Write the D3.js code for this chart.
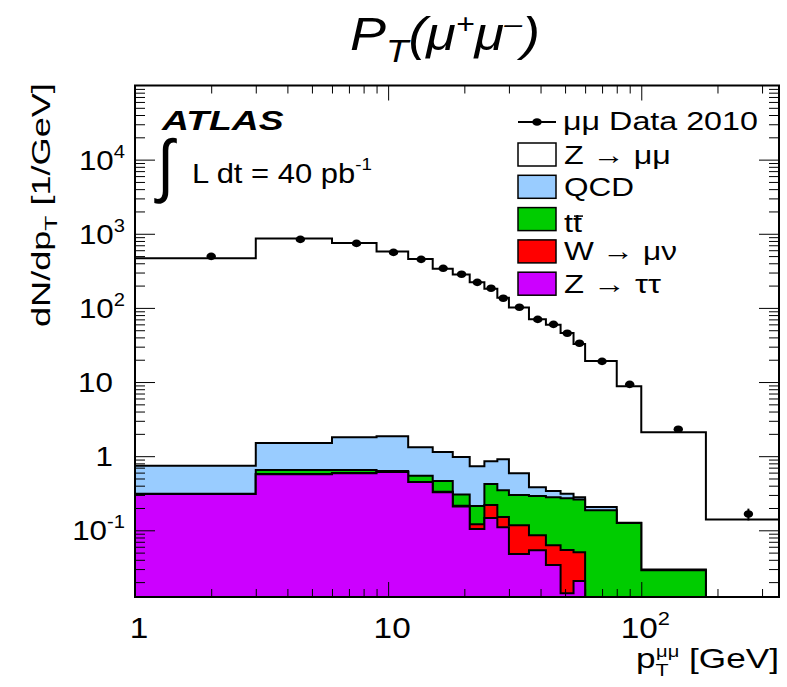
<!DOCTYPE html>
<html>
<head>
<meta charset="utf-8">
<script src="https://cdn.jsdelivr.net/npm/d3@7"></script>
<style>
  body { margin: 0; background: #fff; }
  text { font-family: "Liberation Sans", Arial, Helvetica, sans-serif; fill: #000; }
</style>
</head>
<body>
<div id="chart"></div>
<script>
// bin edges of pT(mumu), GeV
var edges = [1, 3, 6, 9, 12, 15, 18, 21, 24, 27, 30, 36, 42, 48, 54, 60, 80, 100, 180, 350];

// data, dN/dpT per bin
var dataVals = [496, 840, 742, 561, 452, 342, 284, 221, 184, 135, 102, 70, 60, 45.5, 33.3, 19, 9.3, 2.31, 0.166];
var dataErr  = [16, 21, 22, 19, 17, 15, 14, 12, 11, 9, 5, 4.5, 4.2, 3.6, 3.1, 1.3, 0.9, 0.21, 0.03];

// MC components (stacked bottom to top: Ztautau, W, ttbar, QCD, Zmumu)
var ztautau = [0.308, 0.572, 0.59, 0.61, 0.447, 0.327, 0.21, 0.104, 0.146, 0.110, 0.048, 0.054, 0.034, 0.0142, 0.0207, 0, 0, 0, 0];
var wmunu   = [0.001, 0.002, 0.002, 0.003, 0.003, 0.004, 0.004, 0.017, 0.073, 0.041, 0.069, 0.032, 0.029, 0.040, 0.030, 0, 0, 0, 0];
var ttbar   = [0.002, 0.078, 0.058, 0.017, 0.093, 0.133, 0.09, 0.091, 0.201, 0.197, 0.183, 0.204, 0.217, 0.216, 0.209, 0.187, 0.125, 0.029, 0];
var qcd     = [0.43, 0.85, 1.15, 1.23, 0.78, 0.67, 0.67, 0.518, 0.437, 0.562, 0.29, 0.09, 0.06, 0.04, 0.02, 0.019, 0.001, 0.0005, 0];
var zmumu   = [467.3, 864.5, 746.2, 576.1, 454.7, 336.9, 281.0, 221.3, 181.1, 136.1, 100.4, 70.1, 58.7, 45.7, 32.2, 19.0, 8.67, 2.07, 0.14];

// ticks
var xMajor = [1, 10, 100];
var xMinor = [2, 3, 4, 5, 6, 7, 8, 9, 20, 30, 40, 50, 60, 70, 80, 90, 200, 300];
var xTickText = ['1', '10', '10'];
var xTickExp  = ['', '', '2'];
var yMajor = [0.1, 1, 10, 100, 1000, 10000];
var yTickText = ['10', '1', '10', '10', '10', '10'];
var yTickExp  = ['-1', '', '', '2', '3', '4'];

var legendNames = ['Z \u2192 \u03bc\u03bc', 'QCD', 'tt', 'W \u2192 \u03bc\u03bd', 'Z \u2192 \u03c4\u03c4'];
var legendWidths = [107, 70, 19, 113, 98];

////////////////////////////////////////////////

var W = 787, H = 687;
var plotL = 135, plotR = 779, plotT = 85.5, plotB = 597;
var ymin = 0.0126;

var x = d3.scaleLog().domain([1, 350]).range([plotL, plotR]);
var y = d3.scaleLog().domain([ymin, 1e5]).range([plotB, plotT]);

var svg = d3.select('#chart').append('svg')
    .attr('width', W)
    .attr('height', H);

svg.append('clipPath').attr('id', 'plotclip')
    .append('rect')
    .attr('x', plotL).attr('y', plotT)
    .attr('width', plotR - plotL).attr('height', plotB - plotT);

// stretch a text along its baseline so it covers w pixels
function fit(t, x0, yb, w){
    var s = w / t.node().getBBox().width;
    t.attr('transform', 'translate(' + x0 + ',' + yb + ') scale(' + s + ',1)');
}

////////////////////////////////////////////////
// stacked histograms

var layers = [
    {vals: ztautau, color: 'rgb(204,0,255)'},
    {vals: wmunu,   color: 'rgb(255,0,0)'},
    {vals: ttbar,   color: 'rgb(0,204,0)'},
    {vals: qcd,     color: 'rgb(153,204,255)'},
    {vals: zmumu,   color: '#fff'}
];

var cum = dataVals.map(function(){ return 0; });
var stacks = [];
layers.forEach(function(l){
    cum = cum.map(function(c, i){ return c + l.vals[i]; });
    stacks.push({color: l.color, top: cum.slice()});
});

function stepPath(vals){
    var p = 'M' + x(edges[0]) + ',' + plotB;
    vals.forEach(function(v, i){
        var yy = y(Math.max(v, ymin));
        p += 'L' + x(edges[i]) + ',' + yy + 'L' + x(edges[i + 1]) + ',' + yy;
    });
    p += 'L' + x(edges[edges.length - 1]) + ',' + plotB + 'Z';
    return p;
}

var hg = svg.append('g').attr('clip-path', 'url(#plotclip)');
hg.selectAll('path.stack')
    .data(stacks.slice().reverse())
    .enter()
    .append('path')
    .attr('class', 'stack')
    .attr('d', function(d){ return stepPath(d.top); })
    .attr('fill', function(d){ return d.color; })
    .attr('stroke', '#000')
    .attr('stroke-width', 2)
    .attr('stroke-linejoin', 'miter');

////////////////////////////////////////////////
// data points

var centers = dataVals.map(function(d, i){ return (edges[i] + edges[i + 1]) / 2; });

hg.selectAll('line.err')
    .data(dataVals)
    .enter()
    .append('line')
    .attr('class', 'err')
    .attr('x1', function(d, i){ return x(centers[i]); })
    .attr('x2', function(d, i){ return x(centers[i]); })
    .attr('y1', function(d, i){ return y(d - dataErr[i]); })
    .attr('y2', function(d, i){ return y(d + dataErr[i]); })
    .attr('stroke', '#000')
    .attr('stroke-width', 2);

hg.selectAll('ellipse.pt')
    .data(dataVals)
    .enter()
    .append('ellipse')
    .attr('class', 'pt')
    .attr('cx', function(d, i){ return x(centers[i]); })
    .attr('cy', function(d){ return y(d); })
    .attr('rx', 4.7)
    .attr('ry', 3.8)
    .attr('fill', '#000');

////////////////////////////////////////////////
// axes (ticks inside the frame)

var yMinor = [];
[0.01, 0.1, 1, 10, 100, 1000, 10000].forEach(function(dec){
    for (var k = 2; k <= 9; k++){
        if (k * dec >= ymin && k * dec < 1e5) yMinor.push(k * dec);
    }
});

function noDomain(g){ g.select('.domain').remove(); g.selectAll('.tick line').attr('stroke', '#000').attr('stroke-width', 1); }

svg.append('g').attr('transform', 'translate(0,' + plotB + ')')
    .call(d3.axisBottom(x).tickValues(xMajor).tickSize(-15).tickFormat('')).call(noDomain);
svg.append('g').attr('transform', 'translate(0,' + plotB + ')')
    .call(d3.axisBottom(x).tickValues(xMinor).tickSize(-8).tickFormat('')).call(noDomain);
svg.append('g').attr('transform', 'translate(0,' + plotT + ')')
    .call(d3.axisTop(x).tickValues(xMajor).tickSize(-15).tickFormat('')).call(noDomain);
svg.append('g').attr('transform', 'translate(0,' + plotT + ')')
    .call(d3.axisTop(x).tickValues(xMinor).tickSize(-8).tickFormat('')).call(noDomain);

svg.append('g').attr('transform', 'translate(' + plotL + ',0)')
    .call(d3.axisLeft(y).tickValues(yMajor).tickSize(-20).tickFormat('')).call(noDomain);
svg.append('g').attr('transform', 'translate(' + plotL + ',0)')
    .call(d3.axisLeft(y).tickValues(yMinor).tickSize(-10).tickFormat('')).call(noDomain);
svg.append('g').attr('transform', 'translate(' + plotR + ',0)')
    .call(d3.axisRight(y).tickValues(yMajor).tickSize(-20).tickFormat('')).call(noDomain);
svg.append('g').attr('transform', 'translate(' + plotR + ',0)')
    .call(d3.axisRight(y).tickValues(yMinor).tickSize(-10).tickFormat('')).call(noDomain);

svg.append('rect')
    .attr('x', plotL).attr('y', plotT)
    .attr('width', plotR - plotL).attr('height', plotB - plotT)
    .attr('fill', 'none')
    .attr('stroke', '#000')
    .attr('stroke-width', 2);

// tick labels
yMajor.forEach(function(v, i){
    var t = svg.append('text')
        .attr('text-anchor', 'end')
        .attr('font-size', 28)
        .attr('transform', 'translate(' + (yTickExp[i] ? 125 : 113) + ',' + (y(v) + 10) + ') scale(1.12,1)');
    t.append('tspan').text(yTickText[i]);
    if (yTickExp[i]) t.append('tspan').attr('font-size', 18).attr('dy', -12).text(yTickExp[i]);
});

xMajor.forEach(function(v, i){
    var t = svg.append('text')
        .attr('text-anchor', 'middle')
        .attr('font-size', 29)
        .attr('transform', 'translate(' + (x(v) + (xTickExp[i] ? 4 : 4)) + ',638) scale(1.15,1)');
    t.append('tspan').text(xTickText[i]);
    if (xTickExp[i]) t.append('tspan').attr('font-size', 19).attr('dy', -13).text(xTickExp[i]);
});

// axis titles
var xt = svg.append('text').attr('font-size', 28);
xt.append('tspan').text('p');
xt.append('tspan').attr('font-size', 17).attr('dy', 8).text('T');
xt.append('tspan').attr('font-size', 16).attr('dx', -10).attr('dy', -19).text('\u03bc\u03bc');
xt.append('tspan').attr('dy', 11).text(' [GeV]');
fit(xt, 636, 668, 143);

var yt = svg.append('text').attr('font-size', 25);
yt.append('tspan').text('dN/dp');
yt.append('tspan').attr('font-size', 17).attr('dy', 7).text('T');
yt.append('tspan').attr('dy', -7).text(' [1/GeV]');
var ys = 244 / yt.node().getBBox().width;
yt.attr('transform', 'translate(50,327) rotate(-90) scale(' + ys + ',1)');

// title
var tt = svg.append('text').attr('font-size', 47).attr('font-style', 'italic');
tt.append('tspan').text('P');
tt.append('tspan').attr('font-size', 32).attr('dy', 12).text('T');
tt.append('tspan').attr('dy', -12).text('(\u03bc');
tt.append('tspan').attr('font-size', 28).attr('dy', -17).text('+');
tt.append('tspan').attr('dy', 17).text('\u03bc');
tt.append('tspan').attr('font-size', 28).attr('dy', -17).text('\u2013');
tt.append('tspan').attr('dy', 17).text(')');
fit(tt, 350, 50, 190);

// ATLAS label
var at = svg.append('text').attr('font-size', 27).attr('font-weight', 'bold').attr('font-style', 'italic').text('ATLAS');
fit(at, 162, 130, 123);

svg.append('text')
    .attr('font-family', 'DejaVu Sans')
    .attr('font-size', 58)
    .attr('transform', 'translate(157,189) scale(1.05,1.2)')
    .text('\u222b');

var lt = svg.append('text').attr('font-size', 28);
lt.append('tspan').text('L dt = 40 pb');
lt.append('tspan').attr('font-size', 17).attr('dy', -13).text('-1');
fit(lt, 192, 183, 180);

////////////////////////////////////////////////
// legend

var lgx = 518, lgw = 38, lgh = 23;

svg.append('line')
    .attr('x1', lgx).attr('x2', lgx + lgw)
    .attr('y1', 122).attr('y2', 122)
    .attr('stroke', '#000').attr('stroke-width', 2);
svg.append('ellipse')
    .attr('cx', lgx + lgw / 2).attr('cy', 122)
    .attr('rx', 4.7).attr('ry', 3.8)
    .attr('fill', '#000');
var dl = svg.append('text').attr('font-size', 26).text('\u03bc\u03bc Data 2010');
fit(dl, 563, 130, 195);

var legendColors = layers.map(function(l){ return l.color; }).reverse();
legendNames.forEach(function(name, i){
    var ty = 143 + i * 32.3;
    svg.append('rect')
        .attr('x', lgx).attr('y', ty)
        .attr('width', lgw).attr('height', lgh)
        .attr('fill', legendColors[i])
        .attr('stroke', '#000')
        .attr('stroke-width', 1.5);
    var t = svg.append('text').attr('font-size', 26).text(name);
    fit(t, 564, ty + (name === 'tt' ? 24.5 : 20.5), legendWidths[i]);
    if (name === 'tt') {
        svg.append('line')
            .attr('x1', 574).attr('x2', 583)
            .attr('y1', ty + 8.5).attr('y2', ty + 8.5)
            .attr('stroke', '#000').attr('stroke-width', 1.5);
    }
});
</script>
</body>
</html>
